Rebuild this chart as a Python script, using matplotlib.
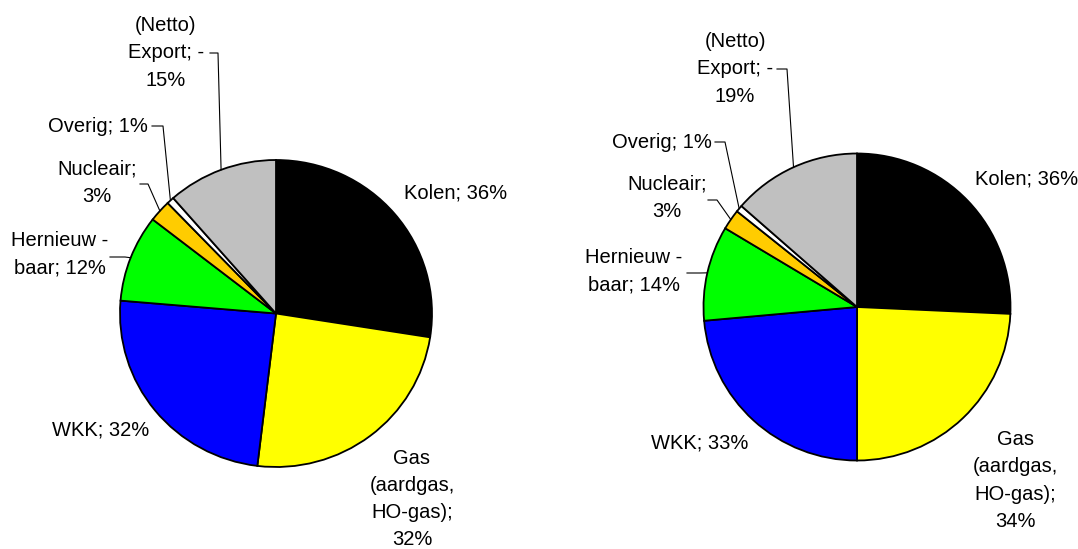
import numpy as np
import matplotlib
matplotlib.use("Agg")
import matplotlib.pyplot as plt

plt.rcParams['font.family'] = ['Liberation Sans', 'DejaVu Sans']

# data
categories = ['Kolen', 'Gas', 'WKK', 'Hernieuwbaar', 'Nucleair', 'Overig', 'Export']
left_values = [36, 32, 32, 12, 3, 1, -15]
right_values = [36, 34, 33, 14, 3, 1, -19]
colors = ['#000000', '#FFFF00', '#0000FF', '#00FF00', '#FFCC00', '#FFFFFF', '#C0C0C0']

label_text = {
    'Kolen': 'Kolen; {v}%',
    'Gas': 'Gas\n(aardgas,\nHO-gas);\n{v}%',
    'WKK': 'WKK; {v}%',
    'Hernieuwbaar': 'Hernieuw -\nbaar; {v}%',
    'Nucleair': 'Nucleair;\n{v}%',
    'Overig': 'Overig; {v}%',
    'Export': '(Netto)\nExport; -\n{v}%',
}

W, H = 1078, 549
FS = 14.5

# layout in figure pixels: pie centre / radii, label anchor, leader elbow
left_layout = dict(
    cx=276, cy=313.5, rx=156, ry=153.5, span=(0, 539),
    labels={
        'Kolen': (404, 193, 'left', None),
        'Gas': (412, 499, 'center', None),
        'WKK': (52, 430, 'left', None),
        'Hernieuwbaar': (60, 254, 'center', [(110, 257), (125, 257)]),
        'Nucleair': (97, 182.5, 'center', [(140, 184), (148, 184)]),
        'Overig': (148, 126, 'right', [(152, 126), (163, 126)]),
        'Export': (166, 53, 'center', [(210, 53), (218, 53)]),
    })
right_layout = dict(
    cx=857, cy=307, rx=153.5, ry=153.5, span=(539, 1078),
    labels={
        'Kolen': (975, 179, 'left', None),
        'Gas': (1015, 480.5, 'center', None),
        'WKK': (651, 443, 'left', None),
        'Hernieuwbaar': (634, 271.5, 'center', [(687, 273), (700, 273)]),
        'Nucleair': (667, 198, 'center', [(708, 200), (717, 200)]),
        'Overig': (712, 142, 'right', [(715, 142), (725, 142)]),
        'Export': (735, 69, 'center', [(777, 69), (787, 69)]),
    })


def draw_pie(fig, values, lay):
    x0, x1 = lay['span']
    ax = fig.add_axes([x0 / W, 0, (x1 - x0) / W, 1])
    cx, cy, rx, ry = lay['cx'], lay['cy'], lay['rx'], lay['ry']

    def to_data(px, py):
        return (px - cx) / rx, (cy - py) / ry

    sizes = np.abs(values)
    wedges, _ = ax.pie(sizes, colors=colors, startangle=90, counterclock=False,
                       radius=1, center=(0, 0), frame=True,
                       wedgeprops=dict(edgecolor='black', linewidth=1.3))
    ax.set_xlim((x0 - cx) / rx, (x1 - cx) / rx)
    ax.set_ylim((cy - H) / ry, cy / ry)
    ax.set_aspect('auto')
    ax.axis('off')

    for w, cat, v in zip(wedges, categories, values):
        px, py, ha, elbow = lay['labels'][cat]
        tx, ty = to_data(px, py)
        ax.text(tx, ty, label_text[cat].format(v=abs(v)), ha=ha, va='center',
                multialignment='center', fontsize=FS, linespacing=1.55)
        if elbow:
            mid = np.deg2rad((w.theta1 + w.theta2) / 2)
            pts = [to_data(*p) for p in elbow] + [(np.cos(mid), np.sin(mid))]
            xs, ys = zip(*pts)
            ax.plot(xs, ys, color='black', lw=0.8, clip_on=False)


fig = plt.figure(figsize=(W / 100, H / 100), dpi=100)
draw_pie(fig, left_values, left_layout)
draw_pie(fig, right_values, right_layout)
fig.savefig('out.png', dpi=100, facecolor='white')
